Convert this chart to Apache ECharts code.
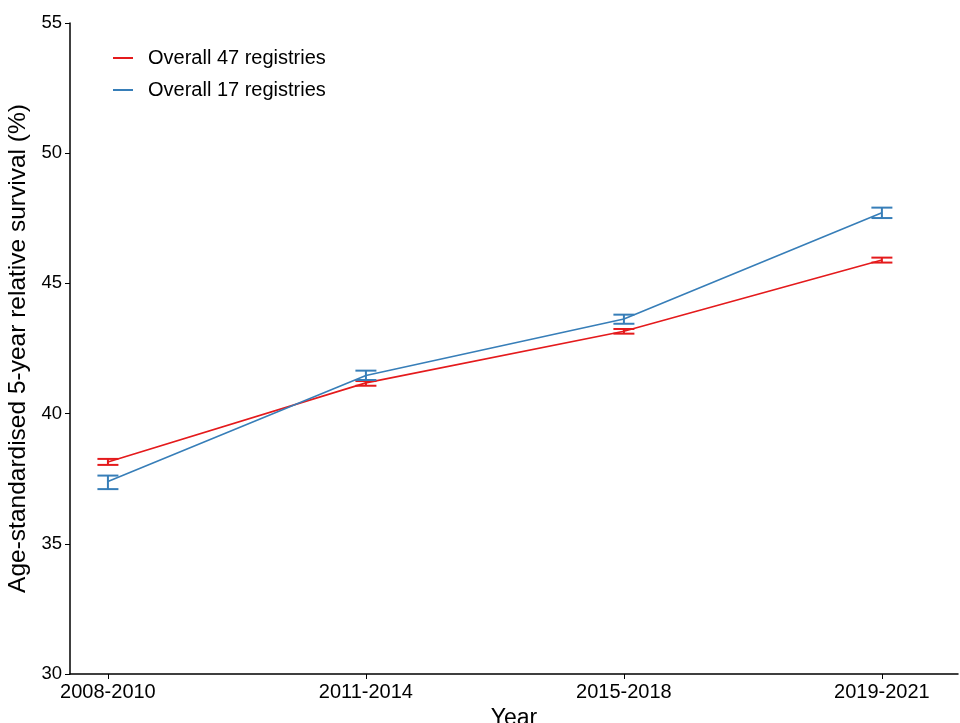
<!DOCTYPE html>
<html>
<head>
<meta charset="utf-8">
<script src="https://cdn.jsdelivr.net/npm/echarts@6/dist/echarts.min.js"></script>
<style>html,body{margin:0;padding:0;background:#fff;}#chart{width:960px;height:723px;}</style>
</head>
<body>
<div id="chart"></div>
<script>
const categories = ['2008-2010', '2011-2014', '2015-2018', '2019-2021'];
const positions = [1, 2, 3, 4];
const overall47 = [38.14, 41.18, 43.16, 45.90];
const overall47Lower = [38.03, 41.07, 43.07, 45.80];
const overall47Upper = [38.26, 41.25, 43.25, 45.99];
const overall17 = [37.39, 41.46, 43.63, 47.71];
const overall17Lower = [37.10, 41.29, 43.45, 47.51];
const overall17Upper = [37.62, 41.65, 43.80, 47.91];
const yTicks = [30, 35, 40, 45, 50, 55];
const seriesNames = ['Overall 47 registries', 'Overall 17 registries'];

const RED = '#e41a1c';
const BLUE = '#377eb8';
const FONT = 'Liberation Sans, Arial, sans-serif';

function errorBar(color) {
  return function (params, api) {
    const x = api.value(0), lo = api.value(1), hi = api.value(2);
    const pLo = api.coord([x, lo]);
    const pHi = api.coord([x, hi]);
    const hw = 10.5;
    const st = { stroke: color, lineWidth: 2 };
    return {
      type: 'group',
      children: [
        { type: 'line', shape: { x1: pLo[0], y1: pLo[1], x2: pHi[0], y2: pHi[1] }, style: st },
        { type: 'line', shape: { x1: pLo[0] - hw, y1: pLo[1], x2: pLo[0] + hw, y2: pLo[1] }, style: st },
        { type: 'line', shape: { x1: pHi[0] - hw, y1: pHi[1], x2: pHi[0] + hw, y2: pHi[1] }, style: st }
      ]
    };
  };
}

const chart = echarts.init(document.getElementById('chart'), null, { renderer: 'canvas' });
chart.setOption({
  animation: false,
  backgroundColor: '#fff',
  textStyle: { fontFamily: FONT, color: '#000' },
  grid: { left: 70, right: 2, top: 23, bottom: 49, containLabel: false, outerBoundsMode: 'none' },
  legend: {
    orient: 'vertical',
    left: 108,
    top: 43,
    itemWidth: 20,
    itemHeight: 2,
    itemGap: 12,
    icon: 'rect',
    textStyle: { fontSize: 20, color: '#000', fontFamily: FONT, padding: [0, 0, 0, 10] },
    data: [
      { name: seriesNames[0], itemStyle: { color: RED } },
      { name: seriesNames[1], itemStyle: { color: BLUE } }
    ]
  },
  xAxis: {
    type: 'value',
    min: 0.853,
    max: 4.295,
    name: 'Year',
    nameLocation: 'middle',
    nameGap: 24,
    nameTextStyle: { fontSize: 23, color: '#000', fontFamily: FONT },
    axisLine: { show: true, onZero: false, lineStyle: { color: '#000', width: 1.5 } },
    axisTick: { show: true, length: 5, lineStyle: { color: '#000', width: 1 }, customValues: positions },
    axisLabel: {
      fontSize: 20, color: '#000', margin: 8, fontFamily: FONT,
      customValues: positions,
      formatter: function (v) { return categories[Math.round(v) - 1] || ''; }
    },
    splitLine: { show: false }
  },
  yAxis: {
    type: 'value',
    min: 30,
    max: 55,
    interval: 5,
    name: 'Age-standardised 5-year relative survival (%)',
    nameLocation: 'middle',
    nameGap: 33,
    nameTextStyle: { fontSize: 24.5, color: '#000', fontFamily: FONT },
    axisLine: { show: true, lineStyle: { color: '#000', width: 1.5 } },
    axisTick: { show: true, length: 5, lineStyle: { color: '#000', width: 1 } },
    axisLabel: {
      fontSize: 18.5, color: '#000', margin: 8, fontFamily: FONT,
      customValues: yTicks
    },
    splitLine: { show: false }
  },
  series: [
    {
      name: seriesNames[0], type: 'line', symbol: 'none', color: RED,
      lineStyle: { color: RED, width: 1.6 },
      data: positions.map((p, i) => [p, overall47[i]]), z: 2
    },
    {
      name: seriesNames[1], type: 'line', symbol: 'none', color: BLUE,
      lineStyle: { color: BLUE, width: 1.6 },
      data: positions.map((p, i) => [p, overall17[i]]), z: 2
    },
    {
      name: seriesNames[0] + ' CI', type: 'custom', renderItem: errorBar(RED),
      encode: { x: 0, y: [1, 2] },
      data: positions.map((p, i) => [p, overall47Lower[i], overall47Upper[i]]), z: 3
    },
    {
      name: seriesNames[1] + ' CI', type: 'custom', renderItem: errorBar(BLUE),
      encode: { x: 0, y: [1, 2] },
      data: positions.map((p, i) => [p, overall17Lower[i], overall17Upper[i]]), z: 3
    }
  ]
});
</script>
</body>
</html>
